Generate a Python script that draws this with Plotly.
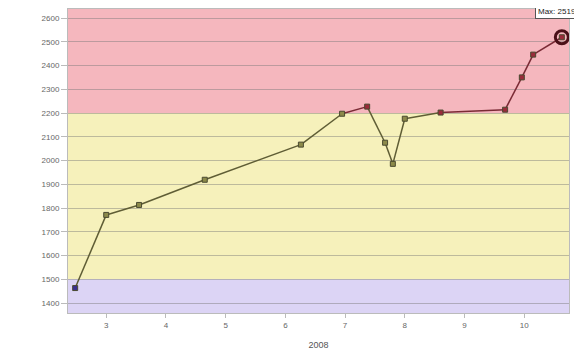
import plotly.graph_objects as go

# Data (month of 2008, value)
months = [2.48, 3.0, 3.55, 4.65, 6.26, 6.95, 7.37, 7.67, 7.8, 8.0, 8.6, 9.68, 9.96, 10.15, 10.63]
values = [1463, 1771, 1813, 1919, 2067, 2197, 2227, 2075, 1986, 2176, 2202, 2214, 2350, 2446, 2519]

y_ticks = [1400, 1500, 1600, 1700, 1800, 1900, 2000, 2100, 2200, 2300, 2400, 2500, 2600]
x_ticks = [3, 4, 5, 6, 7, 8, 9, 10]
x_title = "2008"

low_threshold = 1500
high_threshold = 2200
y_min, y_max = 1358, 2638
x_min, x_max = 2.36, 10.75

band_colors = {"high": "#f5b7be", "mid": "#f6f1bb", "low": "#dcd4f5"}


def marker_color(v):
    if v >= high_threshold:
        return "#9a2b3a"
    if v >= low_threshold:
        return "#8c8a4a"
    return "#3b2f8f"


fig = go.Figure()

# segment lines colored by band
for i in range(len(values) - 1):
    hi = max(values[i], values[i + 1]) > high_threshold and min(values[i], values[i + 1]) >= high_threshold - 10
    fig.add_trace(go.Scatter(
        x=months[i:i + 2], y=values[i:i + 2], mode="lines",
        line=dict(color="#7a2a35" if hi else "#5f5d35", width=1.5),
        showlegend=False, hoverinfo="skip"))

fig.add_trace(go.Scatter(
    x=months, y=values, mode="markers",
    marker=dict(symbol="square", size=5,
                color=[marker_color(v) for v in values],
                line=dict(color="#4a4a30", width=1)),
    showlegend=False))

# max highlight
imax = values.index(max(values))
fig.add_trace(go.Scatter(
    x=[months[imax]], y=[values[imax]], mode="markers",
    marker=dict(symbol="circle-open", size=13, color="#4a1018", line=dict(width=3)),
    showlegend=False))

fig.add_annotation(
    x=months[imax], y=values[imax], text=f"Max: {values[imax]}",
    showarrow=False, xanchor="right", yanchor="middle", xshift=17, yshift=26,
    font=dict(family="Liberation Sans, Arial", size=8, color="#222"),
    bgcolor="white", bordercolor="#555", borderwidth=1, borderpad=2)

shapes = [
    dict(type="rect", xref="paper", yref="y", x0=0, x1=1, y0=high_threshold, y1=y_max,
         fillcolor=band_colors["high"], line_width=0, layer="below"),
    dict(type="rect", xref="paper", yref="y", x0=0, x1=1, y0=low_threshold, y1=high_threshold,
         fillcolor=band_colors["mid"], line_width=0, layer="below"),
    dict(type="rect", xref="paper", yref="y", x0=0, x1=1, y0=y_min, y1=low_threshold,
         fillcolor=band_colors["low"], line_width=0, layer="below"),
]

# page body has an 8px margin; compensate so the plot lands where the reference has it
fig.update_layout(
    width=574, height=346,
    margin=dict(l=60, r=13, t=1, b=41),
    paper_bgcolor="white", plot_bgcolor="white",
    shapes=shapes,
    font=dict(family="Liberation Sans, Arial", size=8, color="#666"),
    xaxis=dict(range=[x_min, x_max], tickvals=x_ticks, ticktext=[str(t) for t in x_ticks],
               showgrid=False, zeroline=False, ticks="outside", ticklen=4, tickcolor="#bbb",
               showline=True, linecolor="#bbb", mirror=True, automargin=False,
               title=dict(text=x_title, font=dict(size=9, color="#555"), standoff=13)),
    yaxis=dict(range=[y_min, y_max], tickvals=y_ticks, ticktext=[str(t) for t in y_ticks],
               showgrid=True, gridcolor="rgba(120,120,120,0.45)", gridwidth=1, zeroline=False,
               ticks="outside", ticklen=6, tickcolor="#bbb", automargin=False,
               showline=True, linecolor="#bbb", mirror=True),
)

fig.write_html("out.html")
